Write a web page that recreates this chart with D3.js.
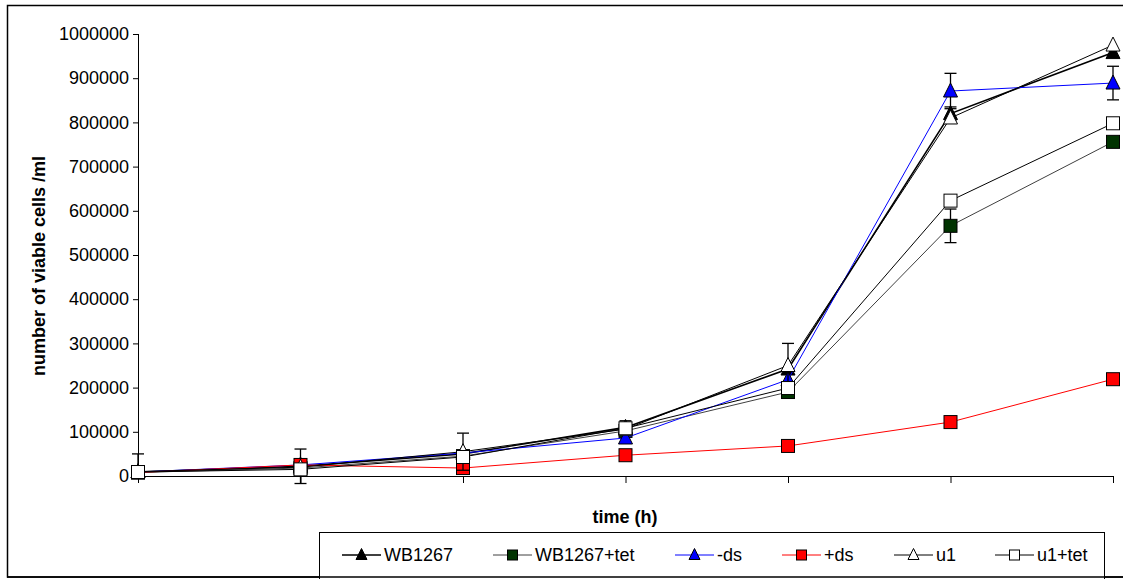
<!DOCTYPE html>
<html>
<head>
<meta charset="utf-8">
<script src="https://cdn.jsdelivr.net/npm/d3@7"></script>
<style>
  body { margin: 0; background: #fff; }
  svg { font-family: "Liberation Sans", Arial, sans-serif; }
</style>
</head>
<body>
<svg width="1123" height="579"></svg>
<script>
// time points (no labels drawn on the axis)
const times = ["t1", "t2", "t3", "t4", "t5", "t6", "t7"]
const yTicks = [0, 100000, 200000, 300000, 400000, 500000, 600000, 700000, 800000, 900000, 1000000]

const wb1267     = [9000, 22000, 50000, 110000, 242000, 820000, 958000]
const wb1267tet  = [8000, 18000, 45000, 102000, 190000, 566000, 756000]
const minusDs    = [9000, 25000, 52000, 86000, 218000, 871000, 889000]
const plusDs     = [8000, 25000, 18000, 47000, 68000, 122000, 219000]
const u1         = [10000, 20000, 55000, 106000, 250000, 810000, 975000]
const u1tet      = [9000, 15000, 43000, 108000, 199000, 623000, 798000]

// error bars: upper and lower size (0 = none)
const errWb1267    = [0, 39000, 0, 15000, 0, 15000, 0]
const errWb1267tet = [0, 0, 0, 0, 12000, 38000, 0]
const errMinusDs   = [0, 0, 0, 0, 0, 40000, 38000]
const errU1        = [0, 0, 42000, 0, 50000, 0, 0]
const errU1tetUp   = [41000, 0, 0, 0, 0, 0, 0]
const errU1tetLow  = [0, 0, 0, 0, 0, 0, 0]

const series = [
  { name: "WB1267", values: wb1267, up: errWb1267, low: errWb1267, line: "#000", lw: 1.6, shape: "tri", fill: "#000" },
  { name: "WB1267+tet", values: wb1267tet, up: errWb1267tet, low: errWb1267tet, line: "#404040", lw: 1, shape: "sq", fill: "#003300" },
  { name: "-ds", values: minusDs, up: errMinusDs, low: errMinusDs, line: "#0000ff", lw: 1, shape: "tri", fill: "#0000ff" },
  { name: "+ds", values: plusDs, up: null, low: null, line: "#ff0000", lw: 1, shape: "sq", fill: "#ff0000" },
  { name: "u1", values: u1, up: errU1, low: errU1, line: "#000", lw: 1, shape: "tri", fill: "#fff" },
  { name: "u1+tet", values: u1tet, up: errU1tetUp, low: errU1tetLow, line: "#000", lw: 1, shape: "sq", fill: "#fff" }
]

const svg = d3.select("svg")

// outer frame
svg.append("rect")
    .attr("x", 7.5).attr("y", 5.5)
    .attr("width", 1130).attr("height", 571.5)
    .attr("fill", "none").attr("stroke", "#000").attr("stroke-width", 1.5)

const x = d3.scalePoint().domain(times).range([138, 1113])
const y = d3.scaleLinear().domain([0, 1000000]).range([476, 34])

// y axis
const yAxis = svg.append("g")
    .attr("transform", "translate(138,0)")
    .call(d3.axisLeft(y).tickValues(yTicks).tickSize(5).tickPadding(4).tickFormat(d3.format("d")))
yAxis.selectAll("text").attr("font-size", 18).attr("fill", "#000")
yAxis.selectAll("line, path").attr("stroke", "#000")
yAxis.select(".domain").attr("d", "M0.5,34V476")

// x axis
const xAxis = svg.append("g")
    .attr("transform", "translate(0,476)")
    .call(d3.axisBottom(x).tickSize(7).tickSizeOuter(0).tickFormat(""))
xAxis.selectAll("line, path").attr("stroke", "#000")

svg.append("text")
    .attr("x", 625).attr("y", 523)
    .attr("text-anchor", "middle")
    .attr("font-size", 18).attr("font-weight", "bold")
    .text("time (h)")

svg.append("text")
    .attr("transform", "translate(45,266) rotate(-90)")
    .attr("text-anchor", "middle")
    .attr("font-size", 18).attr("font-weight", "bold")
    .text("number of viable cells /ml")

function marker(g, s, size) {
  const h = size / 2
  if (s.shape === "tri") {
    g.append("path")
        .attr("d", `M0,${-h - 1}L${h},${h - 1}L${-h},${h - 1}Z`)
        .attr("fill", s.fill).attr("stroke", "#000").attr("stroke-width", 1)
  } else {
    g.append("rect")
        .attr("x", -h + 0.5).attr("y", -h + 0.5)
        .attr("width", size - 1).attr("height", size - 1)
        .attr("fill", s.fill).attr("stroke", "#000").attr("stroke-width", 1)
  }
}

const line = d3.line()
    .x(function(d, i) { return x(times[i]) })
    .y(function(d) { return y(d) })

series.forEach(function(s) {
  const g = svg.append("g")
  g.append("path")
      .attr("d", line(s.values))
      .attr("fill", "none")
      .attr("stroke", s.line)
      .attr("stroke-width", s.lw)

  if (s.up) {
    s.values.forEach(function(v, i) {
      const eu = s.up[i], el = s.low[i]
      if (!eu && !el) return
      const cx = x(times[i])
      const eb = g.append("g").attr("stroke", "#000").attr("stroke-width", 1.3)
      eb.append("line").attr("x1", cx).attr("x2", cx).attr("y1", y(v + eu)).attr("y2", y(v - el))
      if (eu) eb.append("line").attr("x1", cx - 6).attr("x2", cx + 6).attr("y1", y(v + eu)).attr("y2", y(v + eu))
      if (el) eb.append("line").attr("x1", cx - 6).attr("x2", cx + 6).attr("y1", y(v - el)).attr("y2", y(v - el))
    })
  }

  s.values.forEach(function(v, i) {
    const m = g.append("g").attr("transform", `translate(${x(times[i])},${y(v)})`)
    marker(m, s, 14)
  })
})

// legend
const legend = svg.append("g")
legend.append("rect")
    .attr("x", 319.5).attr("y", 532.5)
    .attr("width", 785).attr("height", 50)
    .attr("fill", "#fff").attr("stroke", "#000").attr("stroke-width", 1)

const legendX = [342, 493, 675, 782, 894, 995]
series.forEach(function(s, i) {
  const lg = legend.append("g").attr("transform", `translate(${legendX[i]},555)`)
  lg.append("line")
      .attr("x1", 0).attr("x2", 39).attr("y1", 0).attr("y2", 0)
      .attr("stroke", s.line).attr("stroke-width", s.lw)
  const m = lg.append("g").attr("transform", "translate(19.5,0)")
  marker(m, s, 11)
  lg.append("text")
      .attr("x", 42).attr("y", 6)
      .attr("font-size", 18)
      .text(s.name)
})

// bottom frame line on top of legend
svg.append("line")
    .attr("x1", 7).attr("x2", 1123).attr("y1", 577).attr("y2", 577)
    .attr("stroke", "#000").attr("stroke-width", 1.5)
</script>
</body>
</html>
